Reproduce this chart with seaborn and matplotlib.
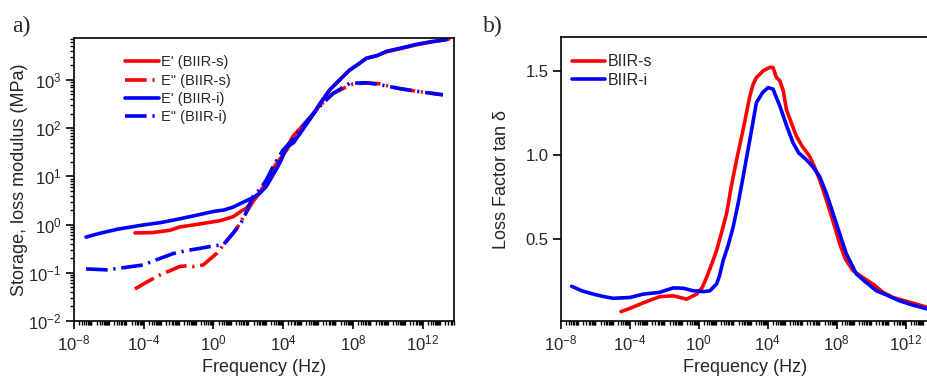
import numpy as np
import pandas as pd
import seaborn as sns
from matplotlib import pyplot as plt
from matplotlib import ticker

# ---- data (log10 frequency / values) ----
# panel a) storage modulus E' and loss modulus E''
es_store_logf = [-4.5, -3.5, -2.5, -1.93, -1.0, 0.37, 1.13, 1.6, 1.9, 2.3, 2.66, 3.0, 3.3, 3.6, 3.9, 4.2,
                 4.6, 5.1, 5.52, 6.1, 6.67, 7.3, 7.82, 8.3, 8.77, 9.4, 9.92, 10.8, 11.6, 12.5, 13.5]
es_store_val = [0.67, 0.68, 0.76, 0.89, 1.0, 1.2, 1.45, 1.9, 2.2, 3.2, 4.5, 7.5, 12, 18, 25, 40,
                70, 110, 150, 300, 620, 1050, 1600, 2100, 2800, 3200, 3800, 4500, 5300, 6100, 7000]

ei_store_logf = [-7.31, -6.5, -5.5, -4.03, -3.0, -2.0, -1.0, -0.02, 0.6, 1.13, 1.7, 2.27, 2.7, 3.04,
                 3.3, 3.61, 3.9, 4.19, 4.6, 5.0, 5.52, 6.1, 6.67, 7.3, 7.82, 8.3, 8.77, 9.4,
                 9.92, 10.8, 11.6, 12.5, 13.35]
ei_store_val = [0.55, 0.66, 0.8, 0.98, 1.1, 1.3, 1.55, 1.86, 2.0, 2.3, 2.9, 3.6, 4.6, 6.2,
                9.0, 14, 22, 40, 50, 80, 150, 320, 620, 1050, 1600, 2100, 2800, 3200,
                3900, 4600, 5400, 6200, 6800]

es_loss_logf = [-4.5, -3.8, -3.07, -2.5, -1.93, -1.5, -1.16, -0.59, 0.18, 0.75, 1.32, 1.8, 2.27,
                2.7, 3.04, 3.4, 3.8, 4.2, 4.6, 5.0, 5.5, 6.1, 6.86, 7.5, 8.0, 8.77, 9.5, 10.68,
                11.8, 13.16]
es_loss_val = [0.046, 0.065, 0.09, 0.11, 0.135, 0.14, 0.135, 0.145, 0.25, 0.45, 0.8, 1.6, 3.0,
               5.0, 7.0, 14, 22, 35, 60, 100, 160, 290, 520, 680, 820, 870, 830, 660,
               570, 490]

ei_loss_logf = [-7.31, -6.8, -6.13, -5.0, -4.03, -3.2, -2.31, -1.5, -0.78, 0.0, 0.56, 1.13, 1.7,
                2.27, 2.7, 3.04, 3.5, 3.99, 4.4, 4.95, 5.5, 6.1, 6.86, 7.5, 7.82, 8.77, 9.5,
                10.68, 11.8, 13.16]
ei_loss_val = [0.12, 0.118, 0.115, 0.13, 0.145, 0.19, 0.25, 0.29, 0.32, 0.36, 0.38, 0.66, 1.26,
               3.8, 5.5, 8.5, 18, 35, 50, 91, 160, 280, 525, 720, 850, 870, 800,
               660, 570, 490]

# panel b) loss factor tan delta
ts_logf = [-4.52, -4.0, -3.42, -2.8, -2.26, -1.49, -1.1, -0.71, -0.13, 0.2, 0.45, 0.75, 1.03,
           1.3, 1.61, 1.9, 2.19, 2.57, 2.96, 3.15, 3.34, 3.55, 3.73, 4.12, 4.3, 4.5, 4.7,
           4.9, 5.08, 5.4, 5.66, 6.0, 6.43, 6.7, 7.01, 7.4, 7.8, 8.17, 8.5, 8.94, 9.5,
           10.1, 10.7, 11.26, 12.3, 13.3]
ts_val = [0.066, 0.085, 0.11, 0.135, 0.155, 0.16, 0.15, 0.14, 0.17, 0.21, 0.27, 0.35, 0.43,
          0.53, 0.65, 0.82, 0.97, 1.15, 1.35, 1.42, 1.46, 1.48, 1.50, 1.52, 1.52, 1.46, 1.44,
          1.38, 1.27, 1.18, 1.11, 1.05, 0.99, 0.93, 0.85, 0.73, 0.60, 0.47, 0.38, 0.31, 0.27,
          0.23, 0.18, 0.15, 0.12, 0.09]

ti_logf = [-7.38, -6.8, -6.13, -5.5, -4.97, -4.0, -3.23, -2.3, -1.49, -0.9, -0.33, 0.3, 0.64,
           1.03, 1.2, 1.41, 1.7, 1.99, 2.3, 2.57, 2.96, 3.34, 3.7, 4.02, 4.31, 4.5, 4.7,
           5.1, 5.47, 5.8, 6.24, 6.6, 7.01, 7.4, 7.79, 8.2, 8.56, 9.14, 9.7, 10.3, 11.0,
           11.65, 12.4, 13.3]
ti_val = [0.217, 0.19, 0.17, 0.155, 0.145, 0.15, 0.17, 0.18, 0.207, 0.205, 0.19, 0.185, 0.19,
          0.23, 0.28, 0.37, 0.46, 0.57, 0.72, 0.87, 1.09, 1.31, 1.37, 1.40, 1.39, 1.34, 1.29,
          1.17, 1.07, 1.01, 0.97, 0.93, 0.87, 0.77, 0.65, 0.52, 0.41, 0.29, 0.24, 0.19, 0.16,
          0.13, 0.105, 0.08]

sns.set_style("ticks")
plt.rcParams['font.family'] = ['Liberation Sans', 'DejaVu Sans']
plt.rcParams['mathtext.default'] = 'regular'

RED = '#ff0000'
BLUE = '#0000ff'
DASH = (0, (6, 1.6, 0.6, 1.6))
LW = 2.6

fig = plt.figure(figsize=(9.28, 3.81), dpi=100)
ax1 = fig.add_axes([0.0797, 0.1575, 0.4095, 0.743])
ax2 = fig.add_axes([0.6045, 0.1575, 0.3965, 0.745])

series_a = [
    (es_store_logf, es_store_val, RED, '-', "E' (BIIR-s)"),
    (es_loss_logf, es_loss_val, RED, DASH, 'E" (BIIR-s)'),
    (ei_store_logf, ei_store_val, BLUE, '-', "E' (BIIR-i)"),
    (ei_loss_logf, ei_loss_val, BLUE, DASH, 'E" (BIIR-i)'),
]
for lf, v, c, ls, lab in series_a:
    df = pd.DataFrame({'f': 10 ** np.array(lf), 'v': v})
    sns.lineplot(data=df, x='f', y='v', ax=ax1, color=c, lw=LW, linestyle=ls, label=lab)

for lf, v, c, lab in [(ts_logf, ts_val, RED, 'BIIR-s'), (ti_logf, ti_val, BLUE, 'BIIR-i')]:
    df = pd.DataFrame({'f': 10 ** np.array(lf), 'v': v})
    sns.lineplot(data=df, x='f', y='v', ax=ax2, color=c, lw=LW, label=lab)

minor_x = [m * 10.0 ** d for d in range(-9, 15) for m in range(1, 10)]
minor_y = [m * 10.0 ** d for d in range(-3, 5) for m in range(2, 10)]

ax1.set_yscale('log')
for ax in (ax1, ax2):
    ax.set_xscale('log')
    ax.xaxis.set_major_locator(ticker.FixedLocator([1e-8, 1e-4, 1, 1e4, 1e8, 1e12]))
    ax.xaxis.set_minor_locator(ticker.FixedLocator(minor_x))
    ax.xaxis.set_minor_formatter(ticker.NullFormatter())
    ax.tick_params(which='major', length=5.5, width=1.2, labelsize=12, color='black')
    ax.tick_params(which='minor', length=3.2, width=1.0, color='black')
    ax.tick_params(axis='x', which='both', top=False)
    ax.tick_params(axis='y', which='both', right=False)
    ax.set_xlabel('Frequency (Hz)', fontsize=13)
    for s in ax.spines.values():
        s.set_linewidth(1.2)
        s.set_color('black')

ax1.set_xlim(1e-8, 10 ** 13.8)
ax1.set_ylim(1e-2, 10 ** 3.87)
ax1.yaxis.set_major_locator(ticker.FixedLocator([1e-2, 1e-1, 1, 10, 100, 1000]))
ax1.yaxis.set_minor_locator(ticker.FixedLocator(minor_y))
ax1.yaxis.set_minor_formatter(ticker.NullFormatter())
ax1.set_ylabel('Storage, loss modulus (MPa)', fontsize=13)
ax1.yaxis.set_label_coords(-0.121, 0.5)

ax2.set_xlim(1e-8, 10 ** 13.35)
ax2.set_ylim(0.01, 1.7)
ax2.set_yticks([0.5, 1.0, 1.5])
ax2.set_ylabel('Loss Factor tan δ', fontsize=13)
ax2.yaxis.set_label_coords(-0.139, 0.5)

ax1.legend(loc='upper left', bbox_to_anchor=(0.1, 0.985), frameon=False, fontsize=10.5,
           handlelength=2.3, handletextpad=0.15, labelspacing=0.3)
ax2.legend(loc='upper left', bbox_to_anchor=(-0.01, 0.99), frameon=False, fontsize=11.5,
           handlelength=2.1, handletextpad=0.15, labelspacing=0.2)

fig.text(0.013, 0.93, 'a)', fontsize=17, family=['Liberation Serif'], va='center')
fig.text(0.52, 0.93, 'b)', fontsize=17, family=['Liberation Serif'], va='center')

fig.savefig('out.png', dpi=100)
